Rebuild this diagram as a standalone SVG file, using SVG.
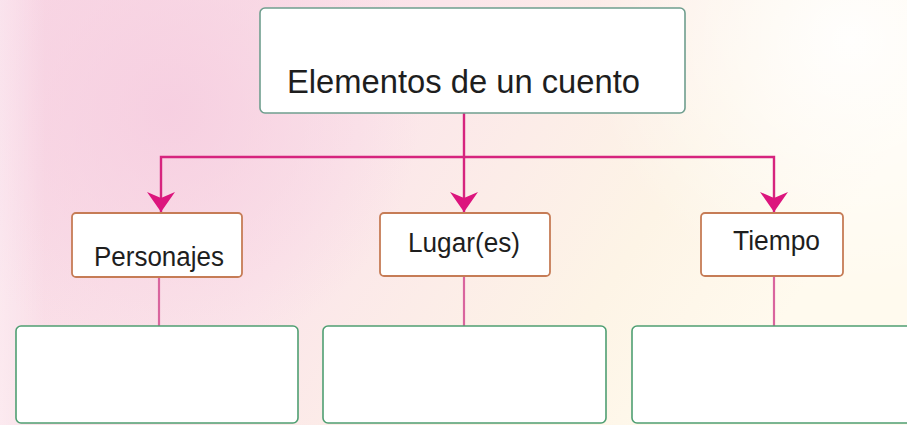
<svg xmlns="http://www.w3.org/2000/svg" width="907" height="425" viewBox="0 0 907 425">
<defs>
<linearGradient id="bg" x1="0" y1="0" x2="1" y2="0.3">
<stop offset="0" stop-color="#f8d6e4"/>
<stop offset="0.45" stop-color="#fbe5ea"/>
<stop offset="0.8" stop-color="#fdf4e6"/>
<stop offset="1" stop-color="#fffaee"/>
</linearGradient>
<radialGradient id="pk" cx="170" cy="110" r="250" gradientUnits="userSpaceOnUse">
<stop offset="0" stop-color="#f6cde0" stop-opacity="0.85"/>
<stop offset="1" stop-color="#f6cde0" stop-opacity="0"/>
</radialGradient>
<radialGradient id="wh" cx="850" cy="40" r="260" gradientUnits="userSpaceOnUse">
<stop offset="0" stop-color="#ffffff" stop-opacity="0.9"/>
<stop offset="1" stop-color="#ffffff" stop-opacity="0"/>
</radialGradient>
<linearGradient id="lw" x1="0" y1="0" x2="1" y2="0">
<stop offset="0" stop-color="#ffffff" stop-opacity="0.35"/>
<stop offset="0.05" stop-color="#ffffff" stop-opacity="0"/>
</linearGradient>
<marker id="ah" viewBox="0 0 22 30" refX="21" refY="15" markerWidth="22" markerHeight="30" markerUnits="userSpaceOnUse" orient="auto-start-reverse">
<path d="M21,15 L1,1 L7,15 L1,29 Z" fill="#dc157d"/>
</marker>
</defs>
<style>
.top{fill:#ffffff;stroke:#6f9e8e;stroke-width:1.6}
.sub{fill:#ffffff;stroke:#c67c56;stroke-width:1.8}
.ans{fill:#ffffff;stroke:#4f9f72;stroke-width:1.6}
.t{font-family:"Liberation Sans",Arial,sans-serif;fill:#1e1e1e}
.ln{fill:none;stroke:#d6247e;stroke-width:2.4}
.lp{fill:none;stroke:#d9659e;stroke-width:2.2}
</style>
<rect x="0" y="0" width="907" height="425" fill="url(#bg)"/>
<rect x="0" y="0" width="907" height="425" fill="url(#pk)"/>
<rect x="0" y="0" width="907" height="425" fill="url(#wh)"/>
<rect x="0" y="0" width="907" height="425" fill="url(#lw)"/>
<g id="connectors">
<path class="ln" d="M464,113 V157"/>
<path class="ln" d="M161,212 V157 H774 V212" marker-start="url(#ah)" marker-end="url(#ah)"/>
<path class="ln" d="M464,157 V212" marker-end="url(#ah)"/>
<path class="lp" d="M159,277 V326"/>
<path class="lp" d="M464,276 V326"/>
<path class="lp" d="M774,276 V326"/>
</g>
<g id="n-elementos">
<rect class="top" x="260" y="8" width="425" height="105" rx="5"/>
<text class="t" x="287" y="93" font-size="33" textLength="353" lengthAdjust="spacingAndGlyphs">Elementos de un cuento</text>
</g>
<g id="n-personajes">
<rect class="sub" x="72" y="213" width="170" height="64" rx="4"/>
<text class="t" x="94" y="266" font-size="27" textLength="130" lengthAdjust="spacingAndGlyphs">Personajes</text>
</g>
<g id="n-lugar">
<rect class="sub" x="380" y="213" width="170" height="63" rx="4"/>
<text class="t" x="408" y="252" font-size="27" textLength="112" lengthAdjust="spacingAndGlyphs">Lugar(es)</text>
</g>
<g id="n-tiempo">
<rect class="sub" x="701" y="213" width="142" height="63" rx="4"/>
<text class="t" x="733" y="250" font-size="27" textLength="87" lengthAdjust="spacingAndGlyphs">Tiempo</text>
</g>
<g id="n-box1">
<rect class="ans" x="16" y="326" width="282" height="97" rx="5"/>
</g>
<g id="n-box2">
<rect class="ans" x="323" y="326" width="283" height="97" rx="5"/>
</g>
<g id="n-box3">
<rect class="ans" x="632" y="326" width="290" height="97" rx="5"/>
</g>
</svg>
